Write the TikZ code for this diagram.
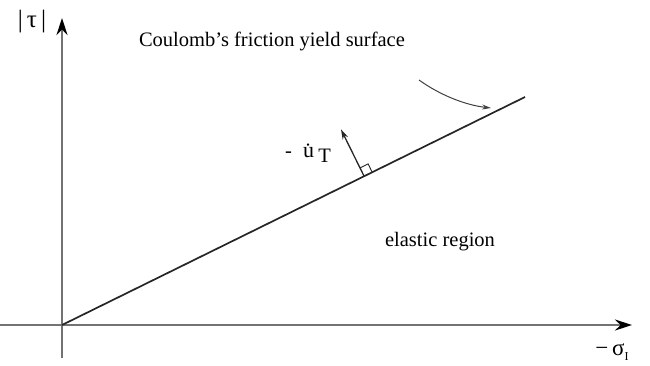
\documentclass[tikz,border=0pt]{standalone}
\usepackage{fontspec}
\setmainfont{Liberation Serif}
\usetikzlibrary{arrows.meta,calc}
\begin{document}
\begin{tikzpicture}[x=1pt,y=-1pt,
  axis/.style={draw=black!55,line width=1.6pt,-{Stealth[length=17pt,width=11pt,color=black]}},
  yieldline/.style={draw=black!85,line width=1.7pt},
  lbl/.style={font=\fontsize{20.5}{22}\selectfont,inner sep=0pt}]
\useasboundingbox (0,0) rectangle (650,365);
\coordinate (O) at (62,325);
\coordinate (Ybot) at (62,358);
\coordinate (Ytop) at (62,18);
\coordinate (Xl) at (0,325);
\coordinate (Xr) at (632,325);
\coordinate (E) at (525,97);
\draw[axis] (Ybot) -- (Ytop);
\draw[axis] (Xl) -- (Xr);
\draw[yieldline] (O) -- (E);
% normal arrow
\coordinate (F) at (364,176);
\coordinate (N) at ($(F)+(-23,-46.6)$);
\draw[black!85,line width=1.3pt,-{Stealth[length=10pt,width=6pt]}] (F) -- (N);
\draw[black!85,line width=0.9pt] ($(F)+(8.1,-4)$) -- ($(F)+(8.1,-4)+(-4,-8.1)$) -- ($(F)+(-4,-8.1)$);
% curved pointer
\coordinate (C1) at (419,80);
\coordinate (C2) at (491,108);
\draw[black!75,line width=1pt,-{Stealth[length=9pt,width=5pt,open]}] (C1) .. controls (440,95) and (465,105) .. (C2);
% labels
\node[lbl,font=\fontsize{25}{27}\selectfont] (tau) at (32,22) {|\,τ\,|};
\node[lbl] (coul) at (272,41) {Coulomb’s friction yield surface};
\node[lbl] (ut) at (308,153) {-\hspace{0.55em}{\fontsize{22}{24}\selectfont\.{u}}\hspace{0.2em}\raisebox{-0.5ex}{T}};
\node[lbl] (el) at (440,242) {elastic region};
\node[lbl,font=\fontsize{23}{25}\selectfont] (sig) at (612,352) {−\,σ\raisebox{-0.45ex}{\fontsize{12}{13}\selectfont I}};
\end{tikzpicture}
\end{document}
